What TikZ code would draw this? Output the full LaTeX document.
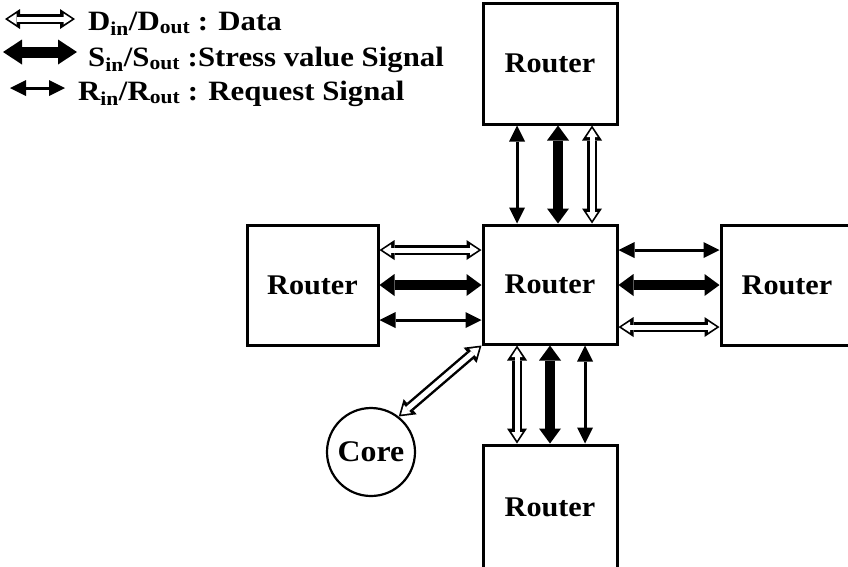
\documentclass[tikz,border=0pt]{standalone}
\usepackage{fontspec}
\setmainfont{Liberation Serif}
\usetikzlibrary{arrows.meta}
\newcommand{\wtxt}[1]{\scalebox{1.1}[1]{#1}}
\begin{document}
\begin{tikzpicture}[x=1pt,y=-1pt,
  box/.style={draw,line width=3pt,fill=white,minimum width=134pt,minimum height=120pt,inner sep=0pt,
    font=\fontsize{28.5}{30}\selectfont\bfseries},
  corenode/.style={draw,circle,line width=2.2pt,minimum size=88pt,inner sep=0pt,
    font=\fontsize{30}{32}\selectfont\bfseries},
  legtext/.style={anchor=base west,inner sep=0pt,font=\fontsize{28}{30}\selectfont\bfseries},
  thinarr/.style={line width=3pt,arrows={Triangle[length=16pt,width=16pt,line width=0pt]-Triangle[length=16pt,width=16pt,line width=0pt]}},
  thickarr/.style={line width=10pt,arrows={Triangle[length=15pt,width=22pt,line width=0pt]-Triangle[length=15pt,width=22pt,line width=0pt]}},
  whitearr/.style={line width=10pt,arrows={Triangle[length=15pt,width=20pt,line width=0pt]-Triangle[length=15pt,width=20pt,line width=0pt]},
    postaction={draw=white,line width=5pt,shorten >=3pt,shorten <=3pt,
      arrows={Triangle[length=8.5pt,width=11pt,line width=0pt]-Triangle[length=8.5pt,width=11pt,line width=0pt]}}},
]
\useasboundingbox (0,0) rectangle (848,566);
\begin{scope}
\clip (0,0) rectangle (848,566);
% routers
\node[box,minimum height=121pt] (top) at (550,63.5) {\scalebox{1.06}[1]{Router}};
\node[box,minimum height=119pt] (c) at (550,284.5) {\scalebox{1.06}[1]{Router}};
\node[box,minimum width=131pt] (l) at (312.5,285) {\scalebox{1.06}[1]{Router}};
\node[box,minimum width=132pt] (r) at (787,285.5) {\scalebox{1.06}[1]{Router}};
\node[box,minimum height=124pt] (b) at (550,507) {\scalebox{1.06}[1]{Router}};
\node[corenode] (core) at (371,452) {\scalebox{1.06}[1]{Core}};

% top - center
\draw[thinarr] (top.south -| 517,0) -- (c.north -| 517,0);
\draw[thickarr] (top.south -| 558,0) -- (c.north -| 558,0);
\draw[whitearr] (top.south -| 592,0) -- (c.north -| 592,0);
% left - center
\draw[whitearr] (l.east |- 0,250) -- (c.west |- 0,250);
\draw[thickarr] (l.east |- 0,285) -- (c.west |- 0,285);
\draw[thinarr] (l.east |- 0,320) -- (c.west |- 0,320);
% center - right
\draw[thinarr] (c.east |- 0,250) -- (r.west |- 0,250);
\draw[thickarr] (c.east |- 0,285) -- (r.west |- 0,285);
\draw[whitearr] (c.east |- 0,327) -- (r.west |- 0,327);
% center - bottom
\draw[whitearr] (c.south -| 517,0) -- (b.north -| 517,0);
\draw[thickarr] (c.south -| 550,0) -- (b.north -| 550,0);
\draw[thinarr] (c.south -| 585,0) -- (b.north -| 585,0);
% core
\draw[whitearr] (c.south west) -- (core.52);
\end{scope}

% legend
\coordinate (d1) at (5,19); \coordinate (d2) at (75,19);
\coordinate (s1) at (3,52); \coordinate (s2) at (77,52);
\coordinate (r1) at (10,88); \coordinate (r2) at (65,88);
\draw[whitearr] (d1) -- (d2);
\draw[line width=11pt,arrows={Triangle[length=19pt,width=25pt,line width=0pt]-Triangle[length=19pt,width=25pt,line width=0pt]}] (s1) -- (s2);
\draw[thinarr] (r1) -- (r2);
\node[legtext] (ld) at (88,30) {\wtxt{D\textsubscript{in}/D\textsubscript{out} : Data}};
\node[legtext] (ls) at (88,66) {\wtxt{S\textsubscript{in}/S\textsubscript{out} :Stress value Signal}};
\node[legtext] (lr) at (78,100) {\wtxt{R\textsubscript{in}/R\textsubscript{out} : Request Signal}};
\end{tikzpicture}
\end{document}
